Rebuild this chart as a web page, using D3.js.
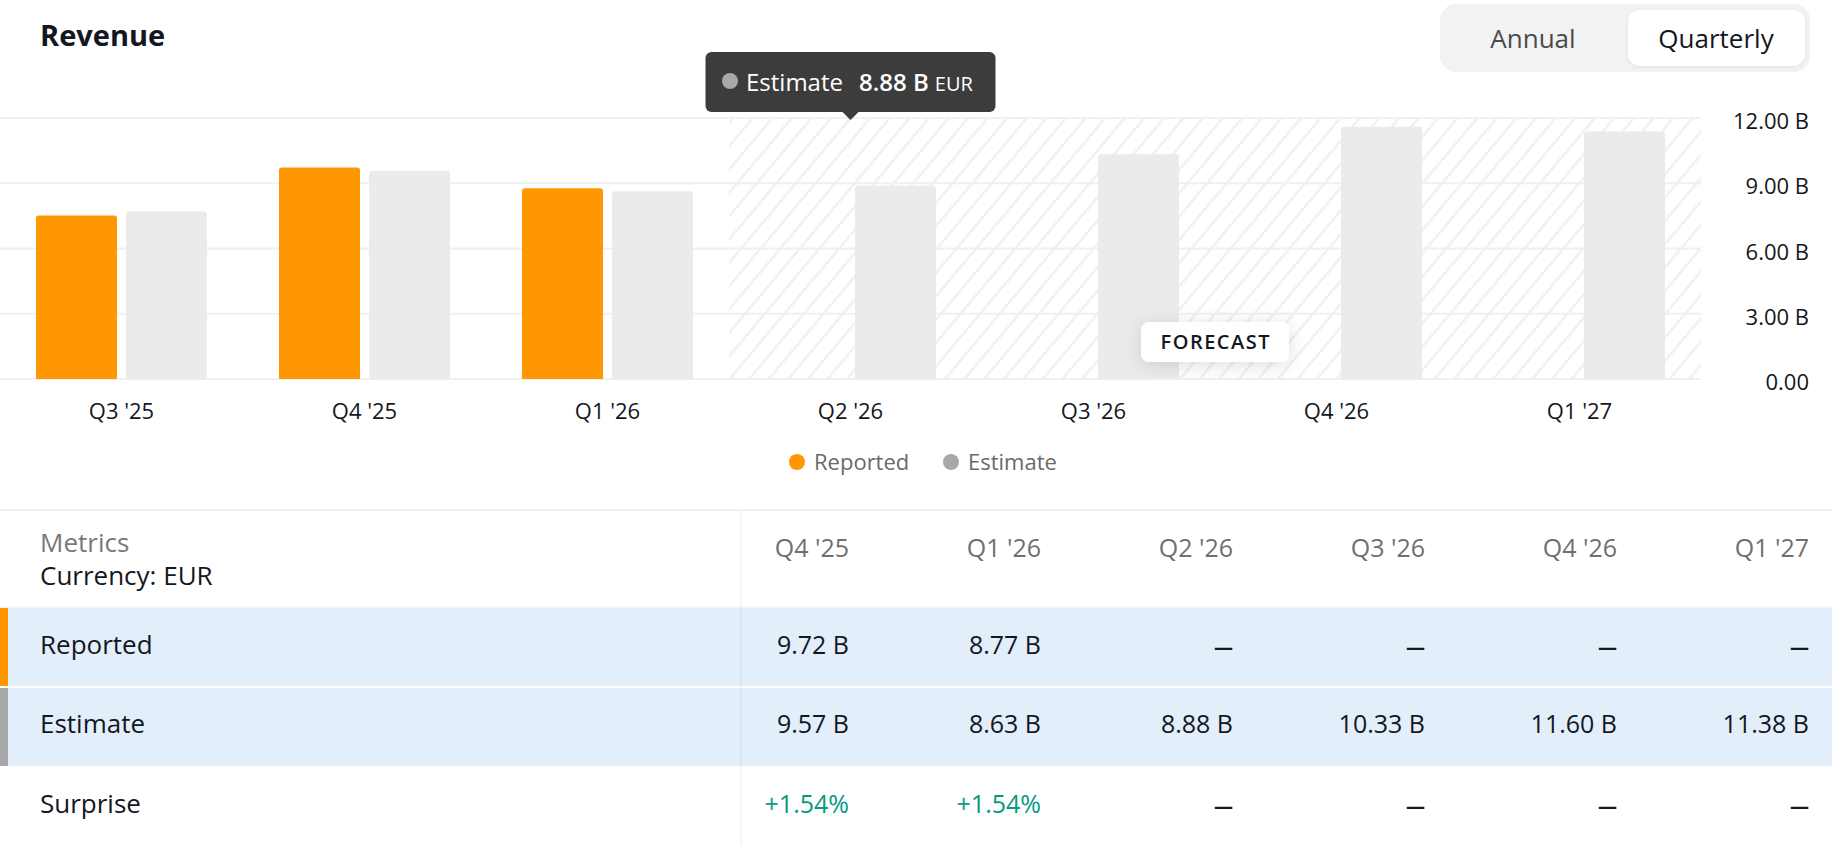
<!DOCTYPE html>
<html>
<head>
<meta charset="utf-8">
<script src="https://cdn.jsdelivr.net/npm/d3@7"></script>
<style>
  body { margin: 0; background: #fff; }
  svg { display: block; font-family: "Open Sans", sans-serif; }
</style>
</head>
<body>
<div class="container"></div>
<script>
const WIDTH = 1832;
const HEIGHT = 846;
const PLOT_RIGHT = 1701;
const AXIS_RIGHT = 1809;

// chart data
var quarters = ["Q3 '25", "Q4 '25", "Q1 '26", "Q2 '26", "Q3 '26", "Q4 '26", "Q1 '27"];
var reported = [7.52, 9.72, 8.77, null, null, null, null];
var estimate = [7.70, 9.57, 8.63, 8.88, 10.33, 11.60, 11.38];
var yTicks = [0, 3, 6, 9, 12];
var firstForecast = "Q2 '26";
var tooltipQuarter = "Q2 '26";

// table data
var tableQuarters = ["Q4 '25", "Q1 '26", "Q2 '26", "Q3 '26", "Q4 '26", "Q1 '27"];
var surprise = [1.54, 1.54, null, null, null, null];

var ORANGE = "#ff9800";
var GREY_BAR = "#ebebeb";
var GREY_DOT = "#a8a8a8";
var TEXT = "#131722";
var MUTED = "#707070";

var translate = function (x, y) {
    return "translate(" + x + "," + y + ")";
};

var topRounded = function (x, y, w, h, r) {
    return "M" + x + "," + (y + h) +
        "V" + (y + r) + "Q" + x + "," + y + " " + (x + r) + "," + y +
        "H" + (x + w - r) + "Q" + (x + w) + "," + y + " " + (x + w) + "," + (y + r) +
        "V" + (y + h) + "Z";
};

var fmtB = function (v) {
    return v.toFixed(2) + " B";
};

var x = d3.scaleBand()
    .domain(quarters)
    .range([0, PLOT_RIGHT]);

var inner = d3.scaleBand()
    .domain(["reported", "estimate"])
    .range([36, 207])
    .paddingInner(0.1);

var y = d3.scaleLinear()
    .domain([0, 12])
    .range([379, 118]);

var svg = d3.select('.container').append('svg')
    .attr('width', WIDTH)
    .attr('height', HEIGHT);

var defs = svg.append('defs');

defs.append('pattern')
    .attr('id', 'hatch')
    .attr('patternUnits', 'userSpaceOnUse')
    .attr('width', 15)
    .attr('height', 15)
    .attr('patternTransform', 'rotate(40)')
    .append('line')
    .attr('x1', 7.5).attr('y1', 0)
    .attr('x2', 7.5).attr('y2', 15)
    .attr('stroke', '#ededed')
    .attr('stroke-width', 2);

defs.append('filter')
    .attr('id', 'soft')
    .attr('x', '-50%').attr('y', '-80%')
    .attr('width', '200%').attr('height', '260%')
    .append('feDropShadow')
    .attr('dx', 0).attr('dy', 3)
    .attr('stdDeviation', 9)
    .attr('flood-color', '#000')
    .attr('flood-opacity', 0.13);

defs.append('filter')
    .attr('id', 'pill')
    .append('feDropShadow')
    .attr('dx', 0).attr('dy', 1)
    .attr('stdDeviation', 1.5)
    .attr('flood-color', '#000')
    .attr('flood-opacity', 0.08);

// header
svg.append('text')
    .attr('x', 40).attr('y', 46)
    .attr('font-size', 29)
    .attr('font-weight', 700)
    .attr('fill', TEXT)
    .text("Revenue");

var toggle = svg.append('g');
toggle.append('rect')
    .attr('x', 1440).attr('y', 4)
    .attr('width', 370).attr('height', 68)
    .attr('rx', 16)
    .attr('fill', '#f2f2f2');
toggle.append('rect')
    .attr('x', 1628).attr('y', 10)
    .attr('width', 177).attr('height', 56)
    .attr('rx', 12)
    .attr('fill', '#fff')
    .attr('filter', 'url(#pill)');
toggle.append('text')
    .attr('x', 1533).attr('y', 48)
    .attr('text-anchor', 'middle')
    .attr('font-size', 26)
    .attr('fill', '#4a4a4a')
    .text("Annual");
toggle.append('text')
    .attr('x', 1716).attr('y', 48)
    .attr('text-anchor', 'middle')
    .attr('font-size', 26)
    .attr('fill', TEXT)
    .text("Quarterly");

// forecast hatch
var fx = x(firstForecast);
svg.append('rect')
    .attr('x', fx).attr('y', y(12))
    .attr('width', PLOT_RIGHT - fx)
    .attr('height', y(0) - y(12))
    .attr('fill', 'url(#hatch)');

// grid
svg.append('g').selectAll('line').data(yTicks)
    .enter().append('line')
    .attr('x1', 0).attr('x2', PLOT_RIGHT)
    .attr('y1', function (d) { return y(d); })
    .attr('y2', function (d) { return y(d); })
    .attr('stroke', '#f0f0f0')
    .attr('stroke-width', 2);

// bars
var bars = svg.append('g');
bars.selectAll('path.rep').data(quarters.filter(function (q, i) { return reported[i] != null; }))
    .enter().append('path')
    .attr('class', 'rep')
    .attr('fill', ORANGE)
    .attr('d', function (q) {
        var v = reported[quarters.indexOf(q)];
        return topRounded(x(q) + inner("reported"), y(v), inner.bandwidth(), y(0) - y(v), 3);
    });
bars.selectAll('path.est').data(quarters)
    .enter().append('path')
    .attr('class', 'est')
    .attr('fill', GREY_BAR)
    .attr('d', function (q, i) {
        var v = estimate[i];
        return topRounded(x(q) + inner("estimate"), y(v), inner.bandwidth(), y(0) - y(v), 3);
    });

// axes
var xAxis = d3.axisBottom(x).tickSize(0).tickPadding(0);
var gx = svg.append('g')
    .attr('transform', translate(0, 419))
    .call(xAxis);
gx.select('.domain').remove();
gx.attr('font-size', 22).attr('font-family', null);
gx.selectAll('text').attr('y', 0).attr('dy', 0).attr('fill', TEXT);

var yAxis = d3.axisRight(y)
    .tickValues(yTicks)
    .tickSize(0)
    .tickPadding(0)
    .tickFormat(function (d) { return d === 0 ? "0.00" : fmtB(d); });
var gy = svg.append('g')
    .attr('transform', translate(AXIS_RIGHT, 0))
    .call(yAxis);
gy.select('.domain').remove();
gy.attr('font-size', 22).attr('font-family', null).attr('text-anchor', 'end');
gy.selectAll('text').attr('x', 0).attr('dy', 10.5).attr('fill', TEXT);

// forecast badge
var fcx = (fx + PLOT_RIGHT) / 2;
svg.append('rect')
    .attr('x', fcx - 74).attr('y', 322)
    .attr('width', 148).attr('height', 40)
    .attr('rx', 8)
    .attr('fill', '#fff')
    .attr('filter', 'url(#soft)');
svg.append('text')
    .attr('x', fcx + 0.75).attr('y', 349)
    .attr('text-anchor', 'middle')
    .attr('font-size', 20)
    .attr('font-weight', 600)
    .attr('letter-spacing', 1.5)
    .attr('fill', TEXT)
    .text("FORECAST");

// tooltip
var tx = x(tooltipQuarter) + x.bandwidth() / 2;
var tip = svg.append('g');
tip.append('rect')
    .attr('x', tx - 145).attr('y', 52)
    .attr('width', 290).attr('height', 60)
    .attr('rx', 6)
    .attr('fill', '#3c3c3c');
tip.append('path')
    .attr('d', "M" + (tx - 9) + ",111L" + tx + ",120L" + (tx + 9) + ",111Z")
    .attr('fill', '#3c3c3c');
tip.append('circle')
    .attr('cx', tx - 120.5).attr('cy', 81)
    .attr('r', 8)
    .attr('fill', GREY_DOT);
var tipText = tip.append('text')
    .attr('x', tx - 104.5).attr('y', 91)
    .attr('font-size', 24)
    .attr('fill', '#fff');
tipText.append('tspan').text("Estimate");
tipText.append('tspan')
    .attr('dx', 16)
    .attr('font-weight', 600)
    .text(fmtB(estimate[quarters.indexOf(tooltipQuarter)]));
tipText.append('tspan')
    .attr('dx', 6)
    .attr('font-size', 20)
    .text("EUR");

// legend
var legend = svg.append('g').attr('transform', translate(797, 462));
var legendItems = [["Reported", ORANGE, 0], ["Estimate", GREY_DOT, 154]];
legendItems.forEach(function (it) {
    legend.append('circle')
        .attr('cx', it[2]).attr('cy', 0)
        .attr('r', 8)
        .attr('fill', it[1]);
    legend.append('text')
        .attr('x', it[2] + 17).attr('y', 8)
        .attr('font-size', 22)
        .attr('fill', '#6a6a6a')
        .text(it[0]);
});

// table
var colRight = function (i) { return 849 + i * 192; };
var table = svg.append('g');

table.append('line')
    .attr('x1', 0).attr('x2', WIDTH)
    .attr('y1', 510).attr('y2', 510)
    .attr('stroke', '#f0f0f0')
    .attr('stroke-width', 2);

var rows = [
    {label: "Reported", top: 608, bottom: 686, bar: ORANGE, base: 654, bg: '#e3eefb'},
    {label: "Estimate", top: 688, bottom: 766, bar: GREY_DOT, base: 733, bg: '#e3eefb'},
    {label: "Surprise", top: 766, bottom: 846, bar: null, base: 813, bg: null}
];

table.append('line')
    .attr('x1', 0).attr('x2', WIDTH)
    .attr('y1', 607).attr('y2', 607)
    .attr('stroke', '#f0f0f0')
    .attr('stroke-width', 1);

rows.forEach(function (r) {
    if (r.bg) {
        table.append('rect')
            .attr('x', 0).attr('y', r.top)
            .attr('width', WIDTH).attr('height', r.bottom - r.top)
            .attr('fill', r.bg);
    }
    if (r.bar) {
        table.append('rect')
            .attr('x', 0).attr('y', r.top)
            .attr('width', 8).attr('height', r.bottom - r.top)
            .attr('fill', r.bar);
    }
    table.append('text')
        .attr('x', 40).attr('y', r.base)
        .attr('font-size', 26)
        .attr('fill', TEXT)
        .text(r.label);
});

table.append('rect')
    .attr('x', 740).attr('y', 511)
    .attr('width', 2).attr('height', HEIGHT - 511)
    .attr('fill', '#000')
    .attr('opacity', 0.04);

table.append('text')
    .attr('x', 40).attr('y', 552)
    .attr('font-size', 26)
    .attr('fill', '#787878')
    .text("Metrics");
table.append('text')
    .attr('x', 40).attr('y', 585)
    .attr('font-size', 26)
    .attr('fill', TEXT)
    .text("Currency: EUR");

table.selectAll('text.colhead').data(tableQuarters)
    .enter().append('text')
    .attr('class', 'colhead')
    .attr('x', function (d, i) { return colRight(i); })
    .attr('y', 557)
    .attr('text-anchor', 'end')
    .attr('font-size', 25)
    .attr('fill', MUTED)
    .text(function (d) { return d; });

var cell = function (row, values, fmt, color) {
    table.append('g').selectAll('text').data(values)
        .enter().append('text')
        .attr('x', function (d, i) { return colRight(i); })
        .attr('y', row.base)
        .attr('text-anchor', 'end')
        .attr('font-size', function (d) { return d == null ? 19 : 25; })
        .attr('font-weight', function (d) { return d == null ? 700 : 400; })
        .attr('fill', function (d) { return d == null ? TEXT : color; })
        .text(function (d) { return d == null ? "—" : fmt(d); });
};

var repCells = tableQuarters.map(function (q) { return reported[quarters.indexOf(q)]; });
var estCells = tableQuarters.map(function (q) { return estimate[quarters.indexOf(q)]; });

cell(rows[0], repCells, fmtB, TEXT);
cell(rows[1], estCells, fmtB, TEXT);
cell(rows[2], surprise, function (v) { return "+" + v.toFixed(2) + "%"; }, "#089981");
</script>
</body>
</html>
